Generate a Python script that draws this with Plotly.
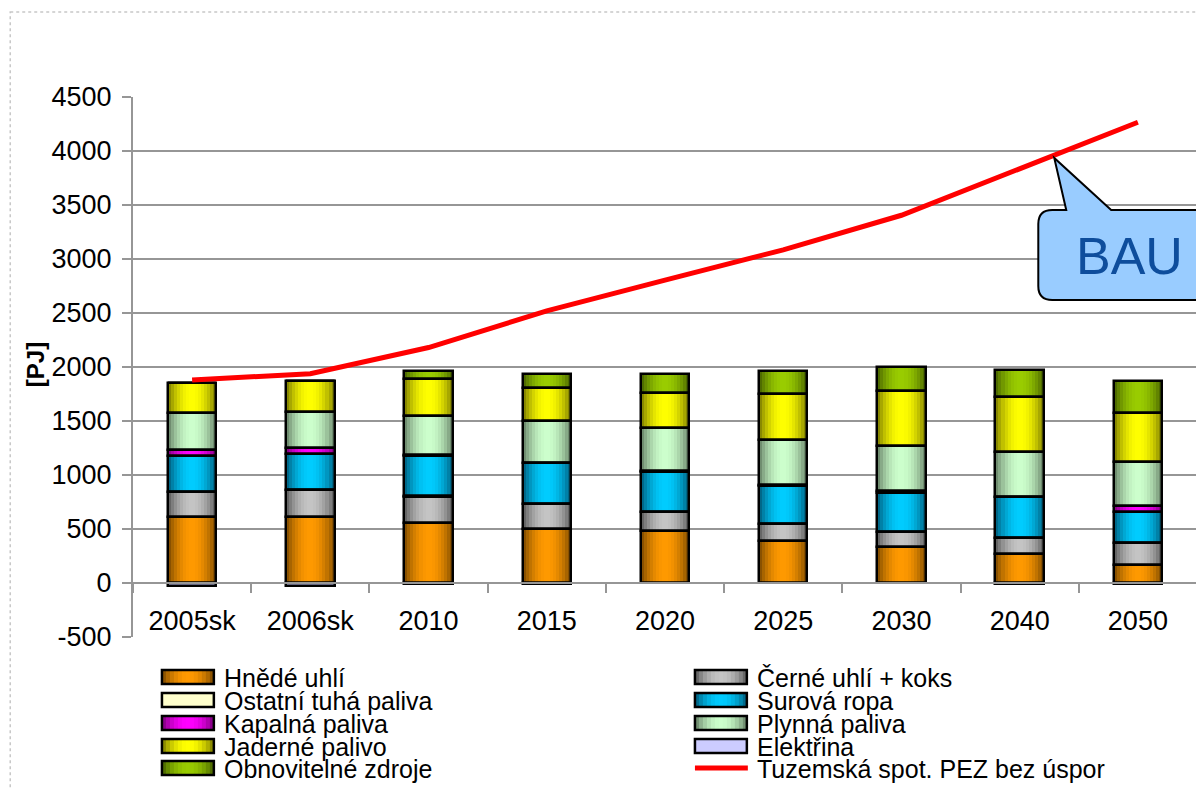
import numpy as np
import plotly.graph_objects as go

# ---------------- data ----------------
categories = ["2005sk", "2006sk", "2010", "2015", "2020", "2025", "2030", "2040", "2050"]
hnede_uhli = [615, 615, 560, 504, 485, 392, 336, 264, 165]
cerne_uhli = [225, 243, 240, 225, 172, 150, 132, 150, 208]
ostatni_tuha = [0, 0, 9, 5, 5, 8, 8, 6, 0]
surova_ropa = [336, 333, 365, 375, 369, 352, 355, 373, 280]
kapalna = [53, 56, 8, 4, 5, 4, 25, 5, 56]
plynna = [342, 339, 367, 383, 401, 420, 411, 417, 411]
jaderne = [279, 280, 336, 314, 320, 420, 507, 507, 451]
elektrina = [-25, -25, -8, -10, -3, -3, -3, -10, -5]
obnovitelne = [0, 0, 77, 121, 174, 217, 230, 246, 298]
spotreba_bau = [1880, 1938, 2180, 2520, 2805, 3085, 3405, 3840, 4266]

y_ticks = [-500, 0, 500, 1000, 1500, 2000, 2500, 3000, 3500, 4000, 4500]
y_tick_labels = [str(v) for v in y_ticks]

# series: name, values, center colour, edge colour (None = flat)
series = [
    ("Hnědé uhlí", hnede_uhli, (255, 153, 0), (115, 68, 0)),
    ("Černé uhlí + koks", cerne_uhli, (196, 196, 196), (85, 85, 85)),
    ("Ostatní tuhá paliva", ostatni_tuha, (255, 255, 204), None),
    ("Surová ropa", surova_ropa, (0, 204, 255), (0, 85, 115)),
    ("Kapalná paliva", kapalna, (255, 0, 255), (115, 0, 115)),
    ("Plynná paliva", plynna, (204, 255, 204), (95, 120, 95)),
    ("Jaderné palivo", jaderne, (255, 255, 0), (115, 115, 0)),
    ("Elektřina", elektrina, (204, 204, 255), None),
    ("Obnovitelné zdroje", obnovitelne, (153, 204, 0), (65, 90, 0)),
]
line_name = "Tuzemská spot. PEZ bez úspor"

FONT = "Liberation Sans, Arial, sans-serif"
GRID = "#969696"
W = 0.41
N = 16

# figure geometry (pixels); the page body has an 8px margin
OFF = 8
FW, FH = 1196, 780
ML, MR, MT, MB = 125, 5, 89, 151
PW, PH = FW - ML - MR, FH - MT - MB


def px(X):
    """screen pixel x -> paper x"""
    return (X - OFF - ML) / PW


def py(Y):
    """screen pixel y -> paper y"""
    return (FH - MB - (Y - OFF)) / PH


def grad(c, e, t):
    w = np.sin(np.pi * t) ** 0.8
    return "rgb(%d,%d,%d)" % tuple(int(round(e[k] + (c[k] - e[k]) * w)) for k in range(3))


fig = go.Figure()

# stacking bases
pos_cum = np.zeros(len(categories))
bases = []
for name, vals, c, e in series:
    v = np.array(vals, dtype=float)
    if name == "Elektřina":
        bases.append(np.zeros(len(categories)))
    else:
        bases.append(pos_cum.copy())
        pos_cum = pos_cum + v

# gradient strips
for (name, vals, c, e), b in zip(series, bases):
    if e is None:
        fig.add_trace(go.Bar(x=categories, y=vals, base=b, width=W, offset=-W / 2,
                             marker=dict(color="rgb(%d,%d,%d)" % c, line=dict(width=0)),
                             showlegend=False, hoverinfo="skip"))
    else:
        for i in range(N):
            t = (i + 0.5) / N
            fig.add_trace(go.Bar(x=categories, y=vals, base=b,
                                 width=W / N * 1.1, offset=-W / 2 + i * W / N,
                                 marker=dict(color=grad(c, e, t), line=dict(width=0)),
                                 showlegend=False, hoverinfo="skip"))

# outlines
for (name, vals, c, e), b in zip(series, bases):
    fig.add_trace(go.Bar(x=categories, y=vals, base=b, width=W, offset=-W / 2, name=name,
                         marker=dict(color="rgba(0,0,0,0)", line=dict(color="black", width=2.5)),
                         showlegend=False))

# BAU line
fig.add_trace(go.Scatter(x=categories, y=spotreba_bau, mode="lines", name=line_name,
                         line=dict(color="#FF0000", width=5), showlegend=False))

shapes = []
annotations = []

# outer chart frame
shapes.append(dict(type="rect", xref="paper", yref="paper",
                   x0=px(10), x1=px(1300), y0=py(12), y1=py(900),
                   line=dict(color="#C8C8C8", width=1.5, dash="dot"), layer="below"))

# manual legend (two columns)
col_x = [162, 696]
row_y = [677, 700, 723, 746, 768]
items = [(s[0], s[2], s[3]) for s in series] + [(line_name, None, None)]
for k, (name, c, e) in enumerate(items):
    col = k % 2
    row = k // 2
    X0 = col_x[col]
    Yc = row_y[row]
    if c is None:
        shapes.append(dict(type="line", xref="paper", yref="paper",
                           x0=px(X0), x1=px(X0 + 53), y0=py(Yc), y1=py(Yc),
                           line=dict(color="#FF0000", width=5)))
    else:
        if e is None:
            shapes.append(dict(type="rect", xref="paper", yref="paper",
                               x0=px(X0), x1=px(X0 + 52), y0=py(Yc + 7), y1=py(Yc - 7),
                               fillcolor="rgb(%d,%d,%d)" % c, line=dict(width=0)))
        else:
            M = 13
            for i in range(M):
                t = (i + 0.5) / M
                shapes.append(dict(type="rect", xref="paper", yref="paper",
                                   x0=px(X0 + i * 52 / M), x1=px(X0 + (i + 1.1) * 52 / M),
                                   y0=py(Yc + 7), y1=py(Yc - 7),
                                   fillcolor=grad(c, e, t), line=dict(width=0)))
        shapes.append(dict(type="rect", xref="paper", yref="paper",
                           x0=px(X0), x1=px(X0 + 52), y0=py(Yc + 7), y1=py(Yc - 7),
                           line=dict(color="black", width=2.5)))
    annotations.append(dict(xref="paper", yref="paper", x=px(X0 + 60), y=py(Yc + 1),
                            xanchor="left", yanchor="middle", showarrow=False, text=name,
                            font=dict(family=FONT, size=25, color="black")))

# BAU callout
r = 14
pts = [("M", 1040 + r, 210), ("L", 1068, 210), ("L", 1056, 158), ("L", 1113, 210),
       ("L", 1280, 210), ("L", 1280, 300), ("L", 1040 + r, 300)]
path = " ".join("%s%.5f,%.5f" % (cmd, px(X), py(Y)) for cmd, X, Y in pts)
path += " Q%.5f,%.5f %.5f,%.5f" % (px(1040), py(300), px(1040), py(300 - r))
path += " L%.5f,%.5f" % (px(1040), py(210 + r))
path += " Q%.5f,%.5f %.5f,%.5f Z" % (px(1040), py(210), px(1040 + r), py(210))
shapes.append(dict(type="path", xref="paper", yref="paper", path=path,
                   fillcolor="#99CCFF", line=dict(color="black", width=2)))
annotations.append(dict(xref="paper", yref="paper", x=px(1131), y=py(256),
                        xanchor="center", yanchor="middle", showarrow=False, text="BAU",
                        font=dict(family=FONT, size=52, color="#0E4D9C")))

# y-axis title
annotations.append(dict(xref="paper", yref="paper", x=px(35), y=py(365),
                        xanchor="center", yanchor="middle", showarrow=False, text="<b>[PJ]</b>",
                        textangle=-90, font=dict(family=FONT, size=24, color="black")))

fig.update_layout(
    width=FW, height=FH,
    margin=dict(l=ML, r=MR, t=MT, b=MB, pad=0),
    barmode="overlay",
    bargap=0,
    plot_bgcolor="white", paper_bgcolor="white",
    font=dict(family=FONT, size=27, color="black"),
    showlegend=False,
    shapes=shapes,
    annotations=annotations,
    xaxis=dict(type="category", anchor="free", position=0.1,
               showline=True, linecolor=GRID, linewidth=2,
               ticks="outside", tickson="boundaries", ticklen=9, tickcolor=GRID, tickwidth=2,
               ticklabelstandoff=14,
               showgrid=False, zeroline=False,
               tickfont=dict(family=FONT, size=27, color="black"),
               range=[-0.5, len(categories) - 0.5]),
    yaxis=dict(range=[-500, 4500], tickvals=y_ticks, ticktext=y_tick_labels,
               showgrid=True, gridcolor=GRID, gridwidth=2,
               showline=True, linecolor=GRID, linewidth=2, mirror=True,
               ticks="outside", ticklen=9, tickcolor=GRID, tickwidth=2,
               ticklabelstandoff=5, zeroline=False,
               tickfont=dict(family=FONT, size=27, color="black")),
)

fig.write_html("out.html")
